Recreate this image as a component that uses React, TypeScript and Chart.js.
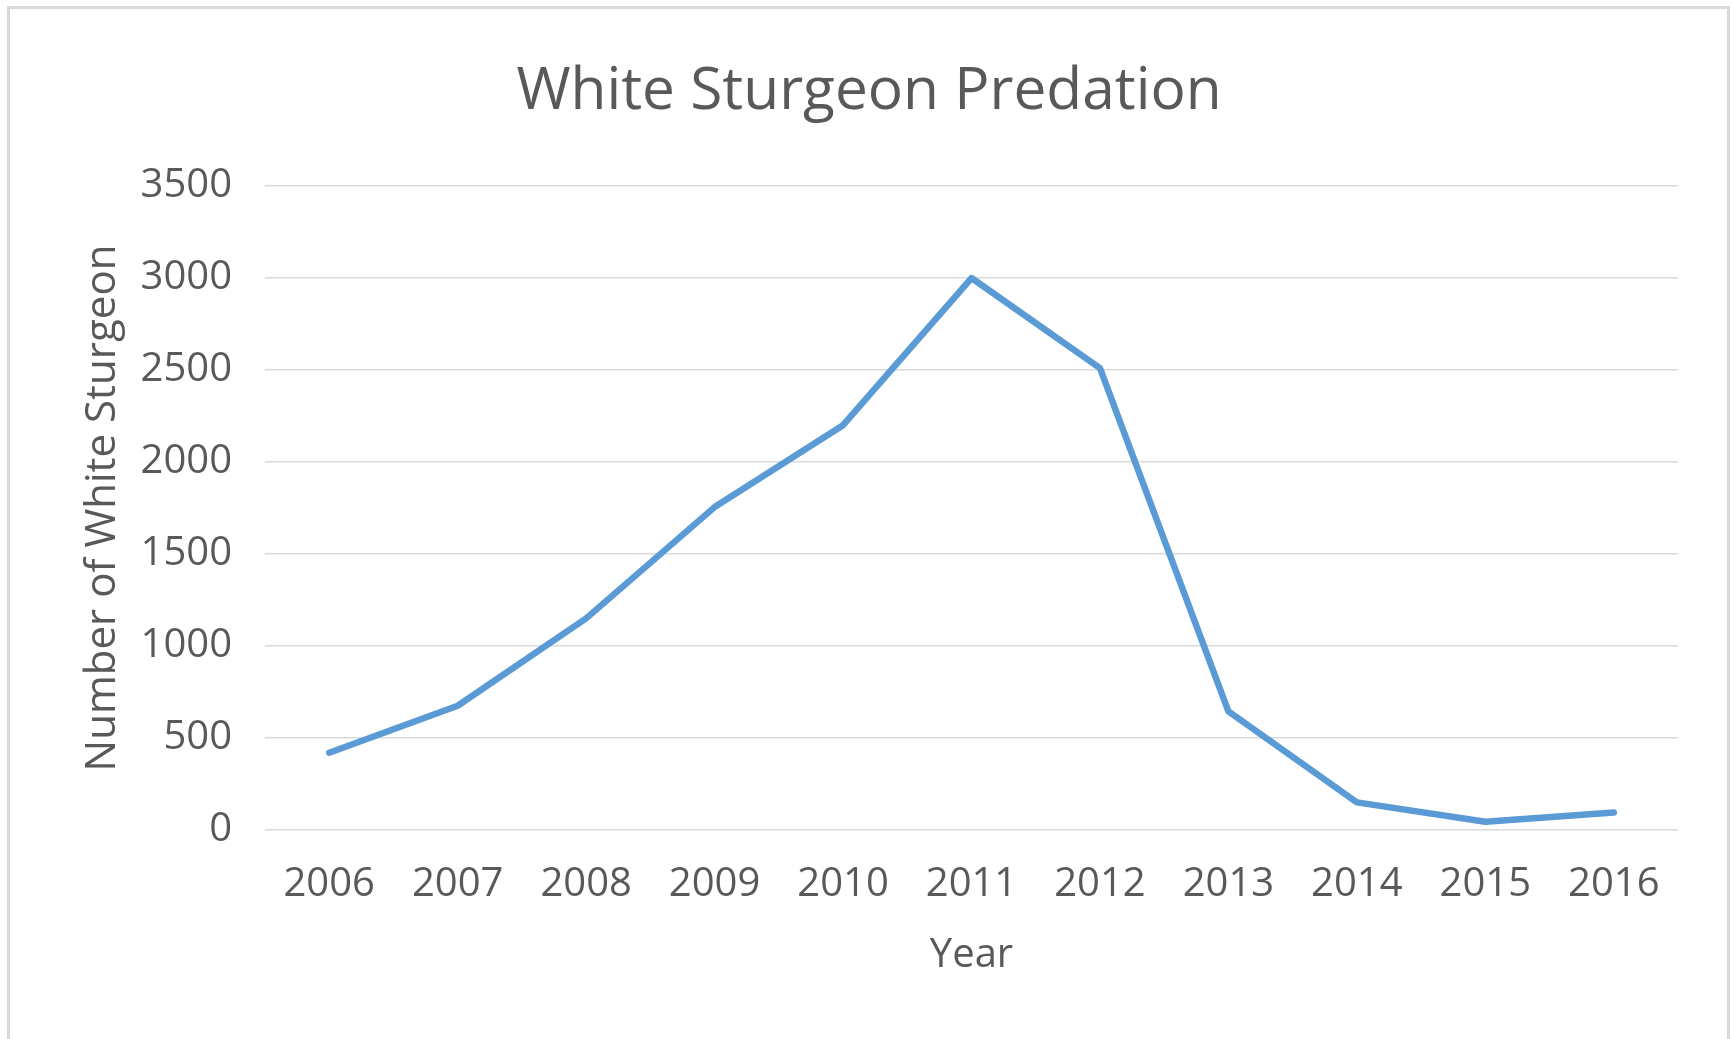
import React, { useEffect, useRef } from "react";
import { Chart, registerables } from "chart.js";

Chart.register(...registerables);

const years = ["2006", "2007", "2008", "2009", "2010", "2011", "2012", "2013", "2014", "2015", "2016"];
const predation = [420, 675, 1150, 1755, 2200, 3000, 2510, 645, 150, 45, 95];
const yTicks = [0, 500, 1000, 1500, 2000, 2500, 3000, 3500];

const chartTitle = "White Sturgeon Predation";
const xTitle = "Year";
const yTitle = "Number of White Sturgeon";

const W = 1732;
const H = 1039;
const FONT = "'Open Sans', 'Noto Sans', sans-serif";
const TEXT = "#595959";

export default function App() {
  const ref = useRef<HTMLCanvasElement | null>(null);

  useEffect(() => {
    if (!ref.current) return;
    const chart = new Chart(ref.current, {
      type: "line",
      data: {
        labels: years,
        datasets: [
          {
            label: yTitle,
            data: predation,
            borderColor: "#5b9bd5",
            backgroundColor: "#5b9bd5",
            borderWidth: 6.5,
            borderCapStyle: "round",
            borderJoinStyle: "round",
            pointRadius: 0,
            tension: 0,
            fill: false,
          },
        ],
      },
      options: {
        responsive: false,
        animation: false,
        devicePixelRatio: 1,
        layout: { padding: { left: 60, right: 54, top: 0, bottom: 0 } },
        plugins: {
          legend: { display: false },
          tooltip: { enabled: false },
          title: {
            display: true,
            text: chartTitle,
            color: TEXT,
            font: { family: FONT, size: 58.6, weight: "normal", lineHeight: 1.2 },
            padding: { top: 57, bottom: 58.7 },
          },
        },
        scales: {
          x: {
            type: "category",
            offset: true,
            grid: { display: false, drawTicks: false },
            border: { display: false },
            ticks: {
              color: TEXT,
              font: { family: FONT, size: 40, lineHeight: 1.2 },
              padding: 31,
              maxRotation: 0,
              autoSkip: false,
            },
            title: {
              display: true,
              text: xTitle,
              color: TEXT,
              font: { family: FONT, size: 40, lineHeight: 1.2 },
              padding: { top: 0, bottom: 59 },
            },
            afterFit: (scale: any) => {
              scale.height = H - 830;
            },
          },
          y: {
            min: 0,
            max: 3500,
            afterBuildTicks: (scale: any) => {
              scale.ticks = yTicks.map((v) => ({ value: v }));
            },
            grid: { color: "#d9d9d9", lineWidth: 1.5, drawTicks: false },
            border: { display: false },
            ticks: {
              color: TEXT,
              font: { family: FONT, size: 40, lineHeight: 1.2 },
              padding: 33,
              callback: (value: any) => String(value),
            },
            title: {
              display: true,
              text: yTitle,
              color: TEXT,
              font: { family: FONT, size: 42, lineHeight: 1.2 },
              padding: { top: 18, bottom: 0 },
            },
            afterFit: (scale: any) => {
              scale.width = 205;
            },
          },
        },
      },
    });
    return () => chart.destroy();
  }, []);

  return (
    <div
      style={{
        position: "absolute",
        left: 0,
        top: 0,
        width: W,
        height: H,
        overflow: "hidden",
        background: "#ffffff",
      }}
    >
      <div
        style={{
          position: "absolute",
          left: 7,
          top: 6,
          width: 1723,
          height: 1100,
          border: "3px solid #d9d9d9",
          boxSizing: "border-box",
        }}
      />
      <canvas
        ref={ref}
        width={W}
        height={H}
        style={{ position: "absolute", left: 0, top: 0, width: W, height: H }}
      />
    </div>
  );
}
